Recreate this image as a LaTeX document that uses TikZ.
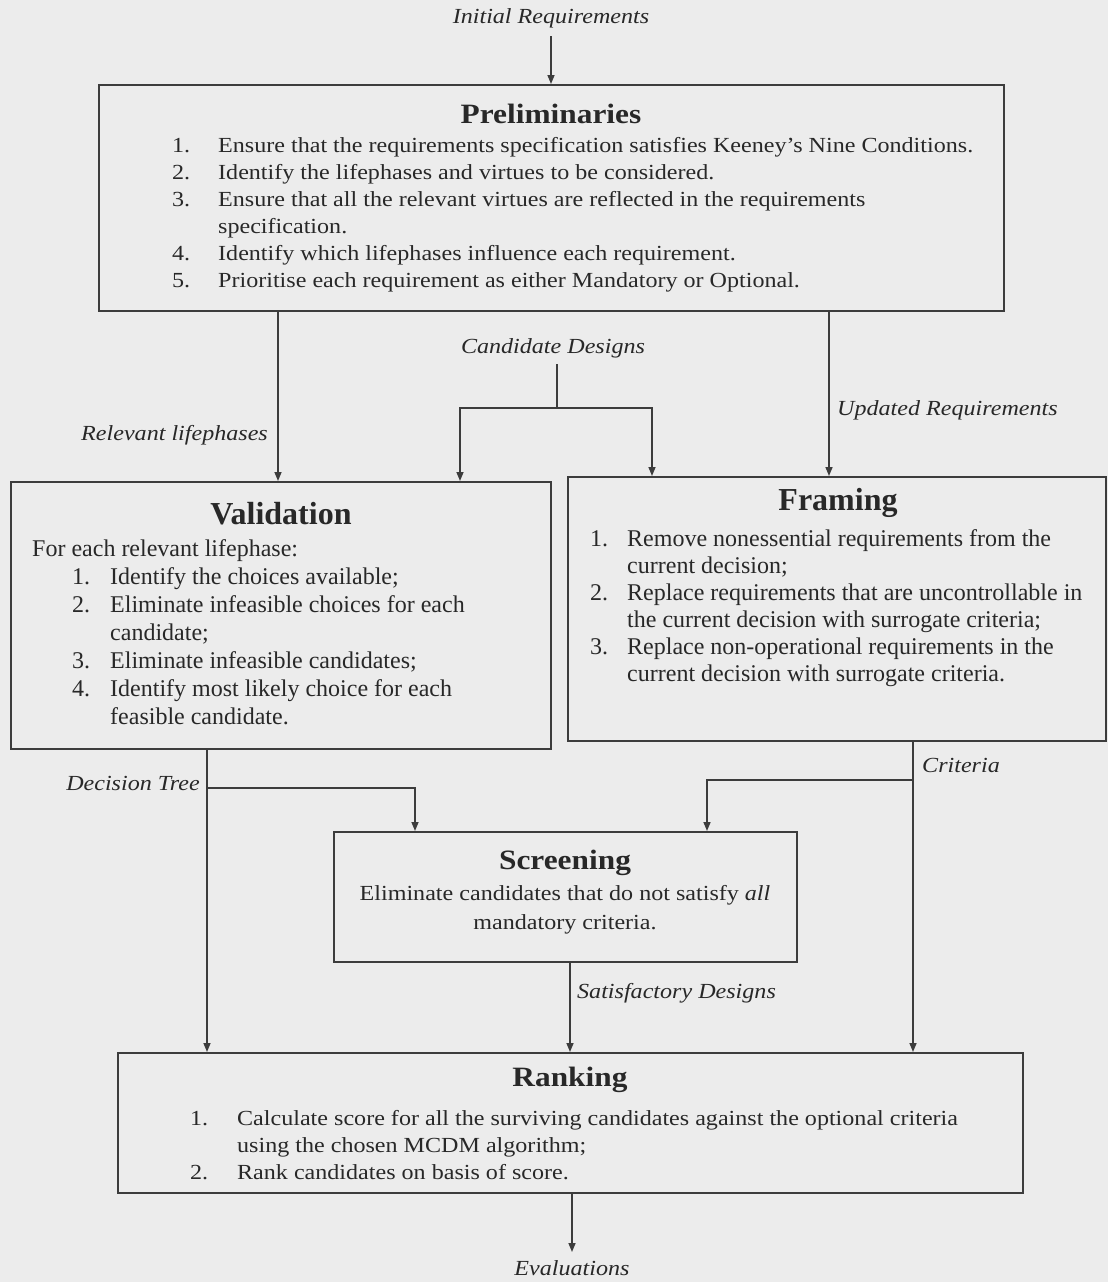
\documentclass[tikz,border=0pt]{standalone}
\usepackage{fontspec}
\setmainfont{Liberation Serif}
\newfontfamily\nrw{Liberation Serif}[FakeStretch=1.12]
\usetikzlibrary{arrows.meta}
\definecolor{paper}{RGB}{236,236,236}
\definecolor{ink}{RGB}{60,60,60}
\definecolor{txt}{RGB}{40,40,40}

\begin{document}
\begin{tikzpicture}[x=1pt,y=-1pt,
  box/.style={draw=ink, line width=1.6pt, inner sep=0pt, anchor=north west},
  ln/.style={draw=ink, line width=1.5pt},
  arr/.style={ln, -{Triangle[length=9pt,width=7pt]}},
  lbl/.style={font=\nrw\fontsize{21.5}{24}\selectfont\itshape, text=txt, inner sep=0pt},
  ttlA/.style={font=\nrw\fontsize{28}{30}\selectfont\bfseries, text=txt, inner sep=0pt},
  ttlB/.style={font=\fontsize{32}{34}\selectfont\bfseries, text=txt, inner sep=0pt},
  bodyA/.style={font=\nrw\fontsize{21.5}{27}\selectfont, text=txt, inner sep=0pt, align=left, anchor=north west},
  bodyB/.style={font=\fontsize{24}{28}\selectfont, text=txt, inner sep=0pt, align=left, anchor=north west}
]
% page
\useasboundingbox[fill=paper] (0,0) rectangle (1108,1282);

% boxes
\node[box, minimum width=905, minimum height=226] (prelim) at (98,84) {};
\node[box, minimum width=540, minimum height=267] (valid) at (10,481) {};
\node[box, minimum width=538, minimum height=264] (frame) at (567,476) {};
\node[box, minimum width=463, minimum height=130] (screen) at (333,831) {};
\node[box, minimum width=905, minimum height=140] (rank) at (117,1052) {};

% Preliminaries
\node[ttlA] (prelimT) at (551,114) {Preliminaries};
\node[bodyA] (prelimL) at (172,137) {%
\makebox[46pt][l]{1.}Ensure that the requirements specification satisfies Keeney’s Nine Conditions.\\
\makebox[46pt][l]{2.}Identify the lifephases and virtues to be considered.\\
\makebox[46pt][l]{3.}Ensure that all the relevant virtues are reflected in the requirements\\
\hspace*{46pt}specification.\\
\makebox[46pt][l]{4.}Identify which lifephases influence each requirement.\\
\makebox[46pt][l]{5.}Prioritise each requirement as either Mandatory or Optional.};

% Validation
\node[ttlB] (validT) at (281,514) {Validation};
\node[bodyB] (validL) at (32,539) {%
For each relevant lifephase:\\
\hspace*{40pt}\makebox[38pt][l]{1.}Identify the choices available;\\
\hspace*{40pt}\makebox[38pt][l]{2.}Eliminate infeasible choices for each\\
\hspace*{78pt}candidate;\\
\hspace*{40pt}\makebox[38pt][l]{3.}Eliminate infeasible candidates;\\
\hspace*{40pt}\makebox[38pt][l]{4.}Identify most likely choice for each\\
\hspace*{78pt}feasible candidate.};

% Framing
\node[ttlB] (frameT) at (838,503) {Framing};
\node[bodyB, font=\fontsize{24}{27}\selectfont] (frameL) at (590,529) {%
\makebox[37pt][l]{1.}Remove nonessential requirements from the\\
\hspace*{37pt}current decision;\\
\makebox[37pt][l]{2.}Replace requirements that are uncontrollable in\\
\hspace*{37pt}the current decision with surrogate criteria;\\
\makebox[37pt][l]{3.}Replace non-operational requirements in the\\
\hspace*{37pt}current decision with surrogate criteria.};

% Screening
\node[ttlA] (screenT) at (565,863) {Screening};
\node[font=\nrw\fontsize{21.5}{29}\selectfont, text=txt, inner sep=0pt, align=center] (screenL) at (565,910) {%
Eliminate candidates that do not satisfy \textit{all}\\ mandatory criteria.};

% Ranking
\node[ttlA] (rankT) at (570,1080) {Ranking};
\node[bodyA] (rankL) at (190,1110) {%
\makebox[47pt][l]{1.}Calculate score for all the surviving candidates against the optional criteria\\
\hspace*{47pt}using the chosen MCDM algorithm;\\
\makebox[47pt][l]{2.}Rank candidates on basis of score.};

% flow labels
\node[lbl] (initL) at (551,18) {Initial Requirements};
\node[lbl] (candL) at (553,348) {Candidate Designs};
\node[lbl, anchor=east] (relL) at (268,435) {Relevant lifephases};
\node[lbl, anchor=west] (updL) at (837,410) {Updated Requirements};
\node[lbl, anchor=east] (dtL) at (200,783) {Decision Tree};
\node[lbl, anchor=west] (crL) at (922,765) {Criteria};
\node[lbl, anchor=west] (sdL) at (577,993) {Satisfactory Designs};
\node[lbl] (evL) at (572,1268) {Evaluations};

% connector routing points
\coordinate (irTop) at (551,36);
\coordinate (relX) at (278,0);
\coordinate (updX) at (829,0);
\coordinate (cdTop) at (557,364);
\coordinate (cdJoin) at (557,408);
\coordinate (cdL) at (460,408);
\coordinate (cdR) at (652,408);
\coordinate (dtX) at (207,0);
\coordinate (dtJ) at (207,788);
\coordinate (dtR) at (415,788);
\coordinate (crX) at (913,0);
\coordinate (crJ) at (913,780);
\coordinate (crLft) at (707,780);
\coordinate (sdX) at (570,0);
\coordinate (evX) at (572,0);
\coordinate (evTip) at (572,1252);

% connectors
\draw[arr] (irTop) -- (prelim.north -| irTop);
\draw[arr] (prelim.south -| relX) -- (valid.north -| relX);
\draw[arr] (prelim.south -| updX) -- (frame.north -| updX);
\draw[ln] (cdTop) -- (cdJoin);
\draw[arr] (cdJoin) -- (cdL) -- (valid.north -| cdL);
\draw[arr] (cdJoin) -- (cdR) -- (frame.north -| cdR);
\draw[arr] (valid.south -| dtX) -- (rank.north -| dtX);
\draw[arr] (dtJ) -- (dtR) -- (screen.north -| dtR);
\draw[arr] (frame.south -| crX) -- (rank.north -| crX);
\draw[arr] (crJ) -- (crLft) -- (screen.north -| crLft);
\draw[arr] (screen.south -| sdX) -- (rank.north -| sdX);
\draw[arr] (rank.south -| evX) -- (evTip);
\end{tikzpicture}
\end{document}
